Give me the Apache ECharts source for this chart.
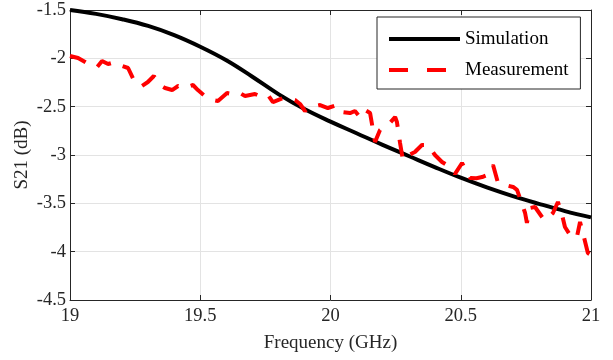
<!DOCTYPE html>
<html>
<head>
<meta charset="utf-8">
<script src="https://cdn.jsdelivr.net/npm/echarts@6/dist/echarts.min.js"></script>
<style>
html,body{margin:0;padding:0;background:#fff;}
#chart{width:613px;height:360px;}
</style>
</head>
<body>
<div id="chart"></div>
<script>
const simFreq = [19.0,19.1,19.2,19.3,19.4,19.5,19.6,19.7,19.8,19.9,20.0,20.1,20.2,20.3,20.4,20.5,20.6,20.7,20.8,20.9,21.0];
const simS21 = [-1.500,-1.540,-1.595,-1.665,-1.760,-1.880,-2.020,-2.190,-2.370,-2.525,-2.655,-2.775,-2.895,-3.010,-3.125,-3.235,-3.335,-3.425,-3.505,-3.580,-3.645];

const measFreq = [19.000,19.031,19.058,19.084,19.104,19.123,19.146,19.173,19.200,19.223,19.250,19.276,19.299,19.322,19.345,19.365,19.392,19.415,19.438,19.472,19.491,19.518,19.549,19.568,19.603,19.622,19.645,19.672,19.710,19.737,19.760,19.779,19.818,19.837,19.864,19.883,19.902,19.921,19.960,19.990,20.025,20.044,20.075,20.094,20.113,20.132,20.152,20.171,20.190,20.209,20.228,20.248,20.255,20.267,20.278,20.301,20.324,20.351,20.374,20.401,20.428,20.459,20.478,20.505,20.536,20.560,20.582,20.601,20.624,20.643,20.670,20.701,20.716,20.727,20.747,20.754,20.766,20.785,20.820,20.839,20.854,20.873,20.889,20.900,20.927,20.946,20.958,20.973,20.988,21.000];
const measS21 = [-1.976,-1.997,-2.038,-2.079,-2.090,-2.028,-2.059,-2.038,-2.079,-2.100,-2.255,-2.286,-2.245,-2.183,-2.276,-2.307,-2.328,-2.286,-2.307,-2.276,-2.328,-2.390,-2.431,-2.441,-2.359,-2.369,-2.348,-2.390,-2.369,-2.400,-2.379,-2.452,-2.410,-2.410,-2.431,-2.472,-2.545,-2.503,-2.483,-2.514,-2.483,-2.555,-2.566,-2.545,-2.607,-2.534,-2.566,-2.865,-2.741,-2.700,-2.669,-2.607,-2.659,-2.876,-3.052,-3.000,-2.969,-2.897,-2.897,-3.000,-3.072,-3.124,-3.196,-3.083,-3.238,-3.240,-3.228,-3.207,-3.103,-3.290,-3.310,-3.331,-3.360,-3.445,-3.600,-3.703,-3.548,-3.538,-3.672,-3.640,-3.600,-3.486,-3.620,-3.745,-3.859,-3.848,-3.693,-3.850,-4.014,-4.034];

const seriesNames = ['Simulation','Measurement'];
const xTitle = 'Frequency (GHz)';
const yTitle = 'S21 (dB)';

const font = 'Liberation Serif';
const axisColor = '#262626';

function zip(a,b){return a.map((v,i)=>[v,b[i]]);}

const chart = echarts.init(document.getElementById('chart'), null, {renderer:'canvas'});
const baseX = {type:'value',min:19,max:21,interval:0.5};
const baseY = {type:'value',min:-4.5,max:-1.5,interval:0.5};
chart.setOption({
  animation:false,
  backgroundColor:'#fff',
  grid:{left:70,right:22,top:10,bottom:60,containLabel:false},
  xAxis:[
    Object.assign({},baseX,{
      position:'bottom',
      name:xTitle,nameLocation:'middle',nameGap:34,nameMoveOverlap:false,
      nameTextStyle:{fontFamily:font,fontSize:19,color:axisColor},
      axisLine:{show:true,lineStyle:{color:axisColor,width:1}},
      axisTick:{show:true,inside:true,length:5,lineStyle:{color:axisColor}},
      axisLabel:{fontFamily:font,fontSize:18.5,color:axisColor,margin:7},
      splitLine:{show:true,lineStyle:{color:'#e3e3e3',width:1}}
    }),
    Object.assign({},baseX,{
      position:'top',
      axisLine:{show:true,lineStyle:{color:axisColor,width:1}},
      axisTick:{show:true,inside:true,length:5,lineStyle:{color:axisColor}},
      axisLabel:{show:false},
      splitLine:{show:false}
    })
  ],
  yAxis:[
    Object.assign({},baseY,{
      position:'left',
      name:yTitle,nameLocation:'middle',nameGap:38,nameRotate:90,nameMoveOverlap:false,
      nameTextStyle:{fontFamily:font,fontSize:19,color:axisColor},
      axisLine:{show:true,onZero:false,lineStyle:{color:axisColor,width:1}},
      axisTick:{show:true,inside:true,length:5,lineStyle:{color:axisColor}},
      axisLabel:{fontFamily:font,fontSize:18.5,color:axisColor,margin:4},
      splitLine:{show:true,lineStyle:{color:'#e3e3e3',width:1}}
    }),
    Object.assign({},baseY,{
      position:'right',
      axisLine:{show:true,onZero:false,lineStyle:{color:axisColor,width:1}},
      axisTick:{show:true,inside:true,length:5,lineStyle:{color:axisColor}},
      axisLabel:{show:false},
      splitLine:{show:false}
    })
  ],
  legend:{
    left:377,top:17,orient:'vertical',
    backgroundColor:'#fff',borderColor:axisColor,borderWidth:1,borderRadius:0,
    padding:[12,12,9,10],
    itemWidth:71,itemHeight:14,itemGap:11,itemTextGap:6,
    itemStyle:{opacity:0},
    lineStyle:{width:4},
    textStyle:{fontFamily:font,fontSize:19,color:'#000',lineHeight:20},
    data:[
      {name:seriesNames[0]},
      {name:seriesNames[1],lineStyle:{type:[19,19],width:4}}
    ]
  },
  series:[
    {name:seriesNames[0],type:'line',xAxisIndex:0,yAxisIndex:0,symbol:'none',smooth:0.4,
     data:zip(simFreq,simS21),lineStyle:{color:'#000',width:4},itemStyle:{color:'#000'},z:3},
    {name:seriesNames[1],type:'line',xAxisIndex:0,yAxisIndex:0,symbol:'none',
     data:zip(measFreq,measS21),lineStyle:{color:'#ff0000',width:4,type:[17,13]},itemStyle:{color:'#ff0000'},z:4}
  ]
});
</script>
</body>
</html>
